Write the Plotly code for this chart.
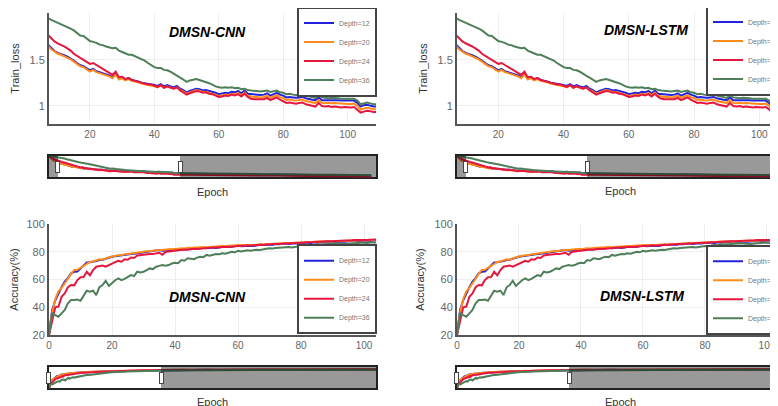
import plotly.graph_objects as go

# ---------------- data ----------------
SERIES = ["Depth=12", "Depth=20", "Depth=24", "Depth=36"]
COLORS = ["#2323dc", "#ff8c1a", "#e6173f", "#4f7f5a"]

EPOCHS_HEAD = list(range(109))
LOSS_TAIL_EPOCHS = [116, 124, 132, 140, 148, 156, 164, 172, 180, 188,
                    196, 204, 212, 220, 228, 236, 244, 252, 260, 268]
ACC_TAIL_EPOCHS = [116, 124, 132, 140, 148, 156, 164, 172, 180, 188, 196, 204,
                   212, 220, 228, 236, 244, 252, 260, 268, 276, 284, 292, 300,
                   308, 316]

LOSS_D12 = [2.00, 1.92, 1.85, 1.80, 1.76, 1.72, 1.69, 1.665, 1.625, 1.595,
            1.575, 1.565, 1.55, 1.535, 1.515, 1.49, 1.465, 1.44, 1.43, 1.405,
            1.385, 1.40, 1.375, 1.365, 1.355, 1.345, 1.33, 1.31, 1.35, 1.295,
            1.31, 1.285, 1.30, 1.28, 1.275, 1.265, 1.25, 1.245, 1.235, 1.235,
            1.225, 1.215, 1.235, 1.21, 1.225, 1.21, 1.20, 1.215, 1.185, 1.17,
            1.145, 1.16, 1.175, 1.185, 1.18, 1.165, 1.17, 1.16, 1.155, 1.14,
            1.125, 1.13, 1.14, 1.135, 1.15, 1.145, 1.16, 1.135, 1.165, 1.13,
            1.125, 1.12, 1.12, 1.115, 1.12, 1.135, 1.11, 1.125, 1.14, 1.12,
            1.11, 1.09, 1.095, 1.09, 1.085, 1.09, 1.095, 1.08, 1.07, 1.065,
            1.06, 1.09, 1.06, 1.06, 1.065, 1.06, 1.065, 1.06, 1.055, 1.055,
            1.05, 1.05, 1.055, 1.03, 0.99, 1.005, 1.01, 1.0, 0.99]
LOSS_D20 = [2.00, 1.91, 1.84, 1.79, 1.745, 1.705, 1.675, 1.65, 1.615, 1.585,
            1.565, 1.555, 1.54, 1.525, 1.505, 1.48, 1.455, 1.43, 1.42, 1.395,
            1.372, 1.39, 1.365, 1.355, 1.345, 1.335, 1.32, 1.30, 1.34, 1.285,
            1.30, 1.275, 1.29, 1.27, 1.265, 1.255, 1.24, 1.235, 1.225, 1.225,
            1.212, 1.20, 1.222, 1.195, 1.21, 1.195, 1.185, 1.20, 1.17, 1.155,
            1.13, 1.145, 1.16, 1.17, 1.163, 1.148, 1.152, 1.14, 1.135, 1.12,
            1.105, 1.11, 1.12, 1.115, 1.13, 1.123, 1.138, 1.112, 1.142, 1.107,
            1.10, 1.095, 1.095, 1.09, 1.095, 1.11, 1.085, 1.10, 1.115, 1.093,
            1.082, 1.062, 1.067, 1.06, 1.055, 1.062, 1.067, 1.05, 1.04, 1.035,
            1.028, 1.06, 1.03, 1.027, 1.032, 1.025, 1.03, 1.025, 1.02, 1.022,
            1.017, 1.017, 1.022, 0.998, 0.958, 0.97, 0.978, 0.97, 0.96]
LOSS_D24 = [2.00, 1.95, 1.90, 1.86, 1.83, 1.80, 1.785, 1.77, 1.735, 1.70,
            1.68, 1.665, 1.645, 1.625, 1.60, 1.565, 1.54, 1.52, 1.50, 1.48,
            1.455, 1.465, 1.44, 1.42, 1.40, 1.38, 1.36, 1.335, 1.37, 1.31,
            1.315, 1.29, 1.30, 1.28, 1.27, 1.26, 1.245, 1.24, 1.23, 1.23,
            1.215, 1.205, 1.225, 1.195, 1.21, 1.195, 1.185, 1.20, 1.165, 1.145,
            1.12, 1.135, 1.15, 1.16, 1.155, 1.14, 1.145, 1.13, 1.125, 1.11,
            1.095, 1.10, 1.11, 1.105, 1.12, 1.11, 1.125, 1.10, 1.13, 1.095,
            1.075, 1.07, 1.07, 1.065, 1.07, 1.085, 1.06, 1.075, 1.09, 1.065,
            1.05, 1.03, 1.035, 1.025, 1.02, 1.03, 1.035, 1.015, 1.005, 1.0,
            0.99, 1.03, 0.995, 0.99, 0.995, 0.985, 0.99, 0.985, 0.98, 0.985,
            0.98, 0.98, 0.985, 0.96, 0.925, 0.935, 0.945, 0.94, 0.93]
LOSS_D36 = [2.01, 2.00, 1.99, 1.985, 1.975, 1.97, 1.96, 1.955, 1.935, 1.92,
            1.905, 1.89, 1.875, 1.86, 1.84, 1.82, 1.79, 1.765, 1.76, 1.73,
            1.705, 1.695, 1.685, 1.665, 1.66, 1.645, 1.635, 1.625, 1.63, 1.60,
            1.585, 1.57, 1.555, 1.555, 1.54, 1.52, 1.505, 1.49, 1.465, 1.44,
            1.42, 1.41, 1.41, 1.39, 1.385, 1.37, 1.345, 1.325, 1.305, 1.285,
            1.26, 1.275, 1.285, 1.29, 1.28, 1.27, 1.255, 1.245, 1.23, 1.21,
            1.20, 1.195, 1.20, 1.195, 1.20, 1.19, 1.195, 1.18, 1.185, 1.17,
            1.165, 1.16, 1.16, 1.155, 1.16, 1.165, 1.15, 1.155, 1.165, 1.145,
            1.14, 1.125, 1.13, 1.12, 1.115, 1.12, 1.125, 1.11, 1.10, 1.095,
            1.085, 1.11, 1.09, 1.085, 1.08, 1.085, 1.085, 1.08, 1.075, 1.075,
            1.07, 1.07, 1.075, 1.055, 1.015, 1.025, 1.035, 1.025, 1.015]

LOSS_D12_TAIL = [0.985, 0.975, 0.98, 0.965, 0.955, 0.96, 0.945, 0.94, 0.935, 0.94,
                 0.925, 0.915, 0.92, 0.905, 0.90, 0.905, 0.89, 0.885, 0.88, 0.875]
LOSS_D20_TAIL = [0.97, 0.96, 0.965, 0.95, 0.94, 0.945, 0.93, 0.925, 0.92, 0.925,
                 0.91, 0.90, 0.905, 0.89, 0.885, 0.89, 0.875, 0.87, 0.865, 0.86]
LOSS_D24_TAIL = [0.935, 0.925, 0.93, 0.915, 0.905, 0.91, 0.895, 0.89, 0.885, 0.89,
                 0.875, 0.865, 0.87, 0.855, 0.85, 0.855, 0.84, 0.835, 0.83, 0.82]
LOSS_D36_TAIL = [1.01, 1.0, 1.005, 0.99, 0.98, 0.985, 0.97, 0.965, 0.96, 0.965,
                 0.95, 0.94, 0.945, 0.93, 0.925, 0.93, 0.915, 0.91, 0.905, 0.90]

ACC_D12 = [21, 38, 45, 50, 54.5, 58.5, 61, 64.5, 65.5, 65.8,
           68, 70.5, 72.3, 72.5, 72.8, 73.3, 74, 74.2, 75, 75.8,
           76.4, 76.8, 77, 77.2, 77.8, 78.1, 78.3, 78.6, 78.9, 79,
           79.3, 79.8, 80, 80.2, 80.6, 81.2, 80.8, 81, 81.3, 81.1,
           81.2, 81.6, 81.9, 82, 81.8, 82.3, 82.5, 82.2, 82.6, 82.8,
           82.5, 83, 83.1, 82.8, 83.3, 83.5, 83.4, 83.8, 83.6, 84,
           84.4, 84, 84.2, 84.5, 84.3, 84.2, 84.8, 85, 84.9, 85.2,
           85.3, 85.1, 85.6, 85.4, 85.7, 85.9, 85.6, 86, 86.2, 85.9,
           86.5, 86.3, 86.6, 86.2, 86.8, 86.7, 86.9, 87.1, 86.8, 87.2,
           87.3, 87.1, 87.5, 87.4, 87.2, 87.6, 87.8, 87.5, 87.9, 87.7,
           88, 88.1, 87.8, 88.2, 88, 88.1, 88.3, 88.2, 88.4]
ACC_D20 = [20.5, 36, 46, 51.5, 54, 57, 60.5, 64, 66.8, 67,
           68.5, 70, 71.5, 72.6, 73, 73.8, 74.5, 74.3, 75.3, 76,
           76.6, 77.2, 77.5, 77.4, 78.2, 78.4, 78.8, 79.3, 79.5, 79.7,
           80.2, 80.4, 80.3, 80.8, 81, 81.1, 81.5, 81.4, 81.8, 82,
           81.9, 82.2, 82.6, 82.4, 82.8, 83, 82.7, 83.3, 83.2, 83.5,
           83.3, 83.6, 83.9, 83.7, 84, 84.2, 83.9, 84.3, 84.5, 84.3,
           84.6, 84.9, 84.7, 84.8, 85.1, 85, 85.3, 85.2, 85.5, 85.8,
           85.6, 86, 85.8, 86.1, 86.3, 86, 86.4, 86.6, 86.3, 86.7,
           86.6, 86.9, 87.1, 86.8, 87.2, 87, 87.4, 87.3, 87.5, 87.2,
           87.6, 87.8, 87.5, 87.9, 87.7, 88, 88.1, 87.9, 88.2, 88.3,
           88.1, 88.4, 88.3, 88.5, 88.6, 88.4, 88.7, 88.6, 88.8]
ACC_D24 = [20, 30.8, 40, 40.5, 47.6, 50, 54.4, 56, 55.8, 59.6,
           61.6, 61.8, 65.6, 63, 66.8, 69.2, 69.8, 70, 69.3, 70.5,
           71.6, 72.5, 73.5, 72.8, 74.5, 74.2, 75.9, 75.5, 77.3, 77.6,
           78, 78.1, 78.4, 78.3, 79, 79.3, 77.8, 79.8, 80.2, 80.5,
           81, 81.2, 81.4, 81.6, 81.5, 81.9, 82.1, 82, 82.3, 82.6,
           82.5, 82.8, 83.1, 83, 83.3, 83.4, 83.6, 83.5, 83.8, 84,
           84.2, 84.1, 84.4, 84.6, 84.4, 84.8, 84.9, 85, 84.8, 85.2,
           85.3, 85.5, 85.4, 85.7, 85.9, 86, 85.8, 86.2, 86.4, 86.3,
           86.5, 86.7, 86.9, 86.8, 87, 87.2, 87.1, 87.4, 87.5, 87.4,
           87.6, 87.8, 87.7, 88, 88.1, 88, 88.2, 88.4, 88.3, 88.5,
           88.6, 88.5, 88.7, 88.8, 88.9, 88.8, 89, 89.1, 89]
ACC_D36 = [19.5, 35.6, 34.4, 33.2, 35.6, 38, 42.8, 45.2, 45.2, 45.5,
           44.6, 48.8, 51.9, 51.2, 51.9, 48.8, 54.4, 56, 59.1, 55.3,
           57.7, 59.5, 60.8, 59.6, 60.5, 61.6, 63.2, 62.5, 65.6, 65,
           65.6, 66.8, 68, 67.5, 69.2, 69.8, 70.4, 69.9, 70.4, 71.5,
           72.1, 71.8, 74, 73.5, 75.3, 75, 74.6, 75.8, 76.4, 76.1,
           77.7, 77.2, 77.9, 78.4, 78.2, 78.9, 78.6, 79.4, 79.9, 79.6,
           80.7, 80.2, 80.6, 81, 80.8, 81.2, 81.5, 81.3, 81.9, 82.2,
           82.5, 82.3, 82.7, 82.9, 82.6, 83.2, 83.4, 83.1, 83.6, 83.9,
           84.2, 84, 84.5, 84.8, 84.6, 85.6, 85.3, 85.4, 85.9, 85.7,
           86.1, 85.9, 86.2, 85.8, 85.5, 85.6, 86, 86.3, 86.1, 86.4,
           86.5, 86.3, 86.7, 86.5, 86.8, 86.6, 86.9, 87, 86.8]

ACC_D12_TAIL = [88.6, 88.8, 88.7, 89.0, 89.1, 89.0, 89.3, 89.4, 89.3, 89.5, 89.6, 89.5,
                89.7, 89.8, 89.7, 89.9, 90.0, 89.9, 90.1, 90.2, 90.1, 90.3, 90.3, 90.4,
                90.4, 90.5]
ACC_D20_TAIL = [88.9, 89.1, 89.0, 89.2, 89.4, 89.3, 89.5, 89.6, 89.5, 89.7, 89.8, 89.7,
                89.9, 90.0, 89.9, 90.1, 90.2, 90.1, 90.3, 90.3, 90.2, 90.4, 90.5, 90.5,
                90.6, 90.6]
ACC_D24_TAIL = [89.2, 89.4, 89.3, 89.6, 89.7, 89.6, 89.9, 90.0, 89.9, 90.1, 90.2, 90.1,
                90.3, 90.4, 90.3, 90.6, 90.7, 90.6, 90.8, 90.9, 90.8, 91.0, 91.1, 91.1,
                91.2, 91.2]
ACC_D36_TAIL = [87.2, 87.4, 87.3, 87.7, 87.8, 87.7, 88.0, 88.1, 88.0, 88.3, 88.4, 88.3,
                88.5, 88.6, 88.5, 88.8, 88.9, 88.8, 89.0, 89.1, 89.0, 89.2, 89.3, 89.3,
                89.4, 89.4]

PANEL_TITLES = ["DMSN-CNN", "DMSN-LSTM", "DMSN-CNN", "DMSN-LSTM"]
LOSS_TICKS = [1, 1.5, 2]
ACC_TICKS = [20, 40, 60, 80, 100]
X_TITLE = "Epoch"
LOSS_TITLE = "Train_loss"
ACC_TITLE = "Accuracy(%)"

loss_heads = [LOSS_D12, LOSS_D20, LOSS_D24, LOSS_D36]
loss_tails = [LOSS_D12_TAIL, LOSS_D20_TAIL, LOSS_D24_TAIL, LOSS_D36_TAIL]
acc_heads = [ACC_D12, ACC_D20, ACC_D24, ACC_D36]
acc_tails = [ACC_D12_TAIL, ACC_D20_TAIL, ACC_D24_TAIL, ACC_D36_TAIL]
for h in loss_heads + acc_heads:
    assert len(h) == len(EPOCHS_HEAD), len(h)
for t in loss_tails:
    assert len(t) == len(LOSS_TAIL_EPOCHS)
for t in acc_tails:
    assert len(t) == len(ACC_TAIL_EPOCHS)

loss_x = EPOCHS_HEAD + LOSS_TAIL_EPOCHS
acc_x = EPOCHS_HEAD + ACC_TAIL_EPOCHS

# ---------------- figure ----------------
fig = go.Figure()
panels = [
    ("x", "y", "legend", loss_x, loss_heads, loss_tails),
    ("x2", "y2", "legend2", loss_x, loss_heads, loss_tails),
    ("x3", "y3", "legend3", acc_x, acc_heads, acc_tails),
    ("x4", "y4", "legend4", acc_x, acc_heads, acc_tails),
]
for xa, ya, lg, xs, heads, tails in panels:
    for name, col, h, t in zip(SERIES, COLORS, heads, tails):
        fig.add_trace(go.Scatter(x=xs, y=h + t, mode="lines", name=name,
                                 line=dict(color=col, width=2),
                                 xaxis=xa, yaxis=ya, legend=lg))

FONT = "Liberation Sans, Arial, sans-serif"
OFF = 8  # page body margin
W, H = 790, 420
ML, MT = 41, 5
MR = W - 780
MB = H - 327
PW = W - ML - MR
PH = H - MT - MB


def sx(p):  # screen x -> paper
    return (p - OFF - ML) / PW


def sy(p):  # screen y -> paper
    return (H - MB - (p - OFF)) / PH


left_dom = [0, sx(376)]
right_dom = [sx(457), 1.0]
top_dom = [sy(124), 1.0]
bot_dom = [0, sy(224)]
thick = 21.4 / PH


def xaxis(dom, anchor, rng, srange):
    return dict(domain=dom, anchor=anchor, range=rng, showgrid=True,
                gridcolor="#eeeeee", showline=True, linecolor="#555555",
                linewidth=2, zeroline=False, ticks="",
                tickfont=dict(size=10, color="#666666"),
                dtick=20,
                rangeslider=dict(visible=True, range=srange, thickness=thick,
                                 bgcolor="white", bordercolor="#222222",
                                 borderwidth=2))


def yaxis(dom, anchor, rng, ticks, title):
    return dict(domain=dom, anchor=anchor, range=rng, showgrid=True,
                gridcolor="#eeeeee", showline=True, linecolor="#555555",
                linewidth=2, zeroline=False, tickvals=ticks, ticks="",
                tickfont=dict(size=11, color="#666666"),
                title=dict(text=title, font=dict(size=11, color="#333333"),
                           standoff=8))


def legend(x, y):
    return dict(x=x, y=y, xanchor="left", yanchor="middle", xref="paper",
                yref="paper", bgcolor="white", bordercolor="#444444",
                borderwidth=2, font=dict(size=7, color="#777777"),
                itemwidth=30, tracegroupgap=0)


fig.update_layout(
    width=W, height=H,
    margin=dict(l=ML, r=MR, t=MT, b=MB, autoexpand=False),
    paper_bgcolor="white", plot_bgcolor="white",
    font=dict(family=FONT, color="#444444"),
    xaxis=xaxis(left_dom, "y", [7.3, 108.8], [0, 272]),
    xaxis2=xaxis(right_dom, "y2", [7.34, 108.8], [0, 276]),
    xaxis3=xaxis(left_dom, "y3", [0, 103.8], [0, 303]),
    xaxis4=xaxis(right_dom, "y4", [0, 106.8], [0, 315.6]),
    yaxis=yaxis(top_dom, "x", [0.8, 2.01], LOSS_TICKS, LOSS_TITLE),
    yaxis2=yaxis(top_dom, "x2", [0.8, 2.01], LOSS_TICKS, LOSS_TITLE),
    yaxis3=yaxis(bot_dom, "x3", [20, 100], ACC_TICKS, ACC_TITLE),
    yaxis4=yaxis(bot_dom, "x4", [20, 100], ACC_TICKS, ACC_TITLE),
    legend=legend(sx(297), sy(51.5)),
    legend2=legend(sx(706), sy(50.5)),
    legend3=legend(sx(297), sy(289.2)),
    legend4=legend(sx(706), sy(289.7)),
    showlegend=True,
)

title_pos = [(207, 32), (645.5, 30), (207, 296.7), (642, 295.7)]
for txt, (tx, ty) in zip(PANEL_TITLES, title_pos):
    fig.add_annotation(text="<b><i>" + txt + "</i></b>", x=sx(tx), y=sy(ty),
                       xref="paper", yref="paper", showarrow=False,
                       xanchor="center", yanchor="middle",
                       font=dict(size=14, color="black", family=FONT))

# x-axis titles (placed below each range slider)
xtitle_pos = [(212.5, 191.5), (620.5, 190.7), (212, 401.7), (620, 401.7)]
for tx, ty in xtitle_pos:
    fig.add_annotation(text=X_TITLE, x=sx(tx), y=sy(ty), xref="paper",
                       yref="paper", showarrow=False, xanchor="center",
                       yanchor="middle",
                       font=dict(size=11, color="#333333", family=FONT))

fig.write_html("out.html")
